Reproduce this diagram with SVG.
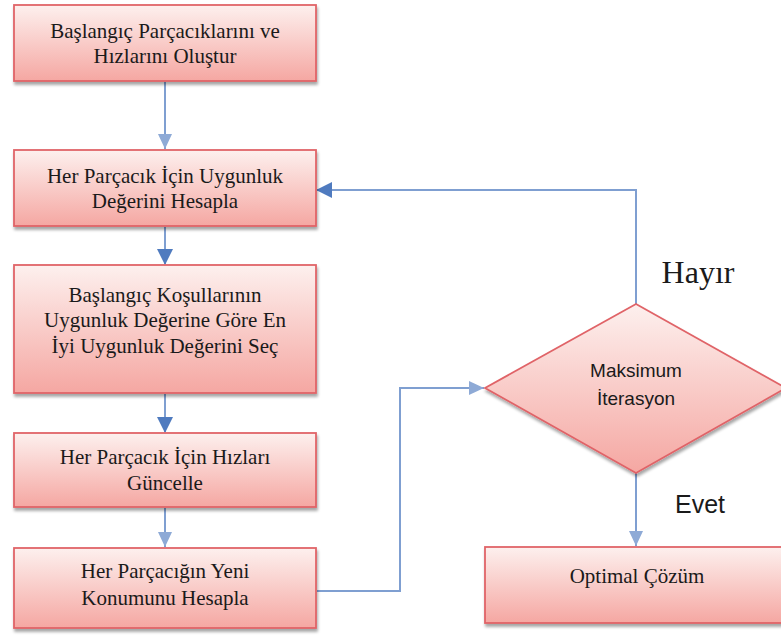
<svg xmlns="http://www.w3.org/2000/svg" width="781" height="636" viewBox="0 0 781 636">
<defs>
<linearGradient id="g" x1="0" y1="0" x2="0" y2="1">
<stop offset="0" stop-color="#fdf0ee"/>
<stop offset="1" stop-color="#f5a7a2"/>
</linearGradient>
<filter id="sh" x="-5%" y="-5%" width="110%" height="120%">
<feGaussianBlur in="SourceAlpha" stdDeviation="1.5"/>
<feOffset dx="1" dy="3"/>
<feComponentTransfer><feFuncA type="linear" slope="0.35"/></feComponentTransfer>
<feMerge><feMergeNode/><feMergeNode in="SourceGraphic"/></feMerge>
</filter>
<marker id="ad" markerWidth="16" markerHeight="16" refX="15" refY="8" orient="auto" markerUnits="userSpaceOnUse">
<path d="M0,0 L16,8 L0,16 Z" fill="#4f7bbf"/>
</marker>
<marker id="al" markerWidth="16" markerHeight="16" refX="15" refY="8" orient="auto" markerUnits="userSpaceOnUse">
<path d="M0,1 L15,8 L0,15 Z" fill="#8eaad6"/>
</marker>
</defs>
<style>
.box{fill:url(#g);stroke:#e06468;stroke-width:1.8;filter:url(#sh)}
.t{font-family:"Liberation Serif","Times New Roman",serif;font-size:21px;fill:#1a1a1a;text-anchor:middle}
.s{font-family:"Liberation Sans",Arial,sans-serif;fill:#1a1a1a;text-anchor:middle}
.c{fill:none;stroke:#7f9fd1;stroke-width:2}
</style>
<rect width="781" height="636" fill="#ffffff"/>
<g id="connectors">
<path class="c" d="M165,82 V149" marker-end="url(#al)"/>
<path class="c" d="M165,227 V264" marker-end="url(#ad)"/>
<path class="c" d="M165,394 V432" marker-end="url(#ad)"/>
<path class="c" d="M165,508 V547" marker-end="url(#al)"/>
<path class="c" d="M317,591 H400 V388 H484" marker-end="url(#al)"/>
<path class="c" d="M636,304 V190 H317" marker-end="url(#ad)"/>
<path class="c" d="M636,473 V546" marker-end="url(#al)"/>
</g>
<g id="n1">
<rect class="box" x="14" y="5" width="302" height="76"/>
<text class="t" x="165" y="38">Başlangıç Parçacıklarını ve</text>
<text class="t" x="165" y="63">Hızlarını Oluştur</text>
</g>
<g id="n2">
<rect class="box" x="14" y="150" width="302" height="76"/>
<text class="t" x="165" y="183">Her Parçacık İçin Uygunluk</text>
<text class="t" x="165" y="208">Değerini Hesapla</text>
</g>
<g id="n3">
<rect class="box" x="14" y="265" width="302" height="128"/>
<text class="t" x="165" y="302">Başlangıç Koşullarının</text>
<text class="t" x="165" y="327">Uygunluk Değerine Göre En</text>
<text class="t" x="165" y="353">İyi Uygunluk Değerini Seç</text>
</g>
<g id="n4">
<rect class="box" x="14" y="433" width="302" height="74"/>
<text class="t" x="165" y="464">Her Parçacık İçin Hızları</text>
<text class="t" x="165" y="490">Güncelle</text>
</g>
<g id="n5">
<rect class="box" x="14" y="548" width="302" height="80"/>
<text class="t" x="165" y="578">Her Parçacığın Yeni</text>
<text class="t" x="165" y="605">Konumunu Hesapla</text>
</g>
<g id="n6">
<polygon class="box" points="636,304 786,388 636,473 485,388"/>
<text class="s" x="636" y="377" font-size="19">Maksimum</text>
<text class="s" x="636" y="405" font-size="19">İterasyon</text>
</g>
<g id="n7">
<rect class="box" x="485" y="547" width="302" height="76"/>
<text class="t" x="637" y="583">Optimal Çözüm</text>
</g>
<g id="labels">
<text x="698" y="283" font-family="Liberation Serif,'Times New Roman',serif" font-size="32" fill="#1a1a1a" text-anchor="middle">Hayır</text>
<text x="700" y="513" font-family="Liberation Sans,Arial,sans-serif" font-size="25" fill="#1a1a1a" text-anchor="middle">Evet</text>
</g>
</svg>
